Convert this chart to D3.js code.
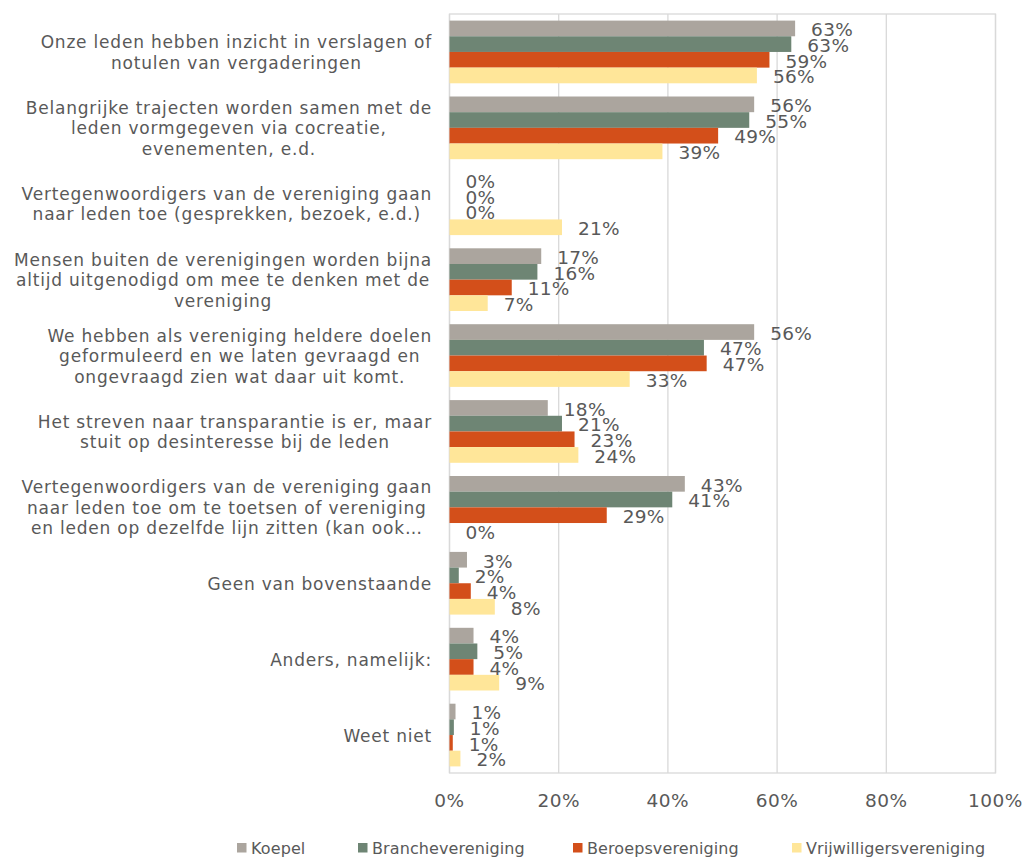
<!DOCTYPE html>
<html><head><meta charset="utf-8">
<script src="https://cdn.jsdelivr.net/npm/d3@7"></script>
<style>
body{margin:0;background:#fff;}
text{font-family:"DejaVu Sans",Verdana,sans-serif;fill:#595959;}
</style></head>
<body>
<svg id="c" width="1025" height="857"></svg>
<script>
const categories = [
  ["Onze leden hebben inzicht in verslagen of","notulen van vergaderingen"],
  ["Belangrijke trajecten worden samen met de","leden vormgegeven via cocreatie,","evenementen, e.d."],
  ["Vertegenwoordigers van de vereniging gaan","naar leden toe (gesprekken, bezoek, e.d.)"],
  ["Mensen buiten de verenigingen worden bijna","altijd uitgenodigd om mee te denken met de","vereniging"],
  ["We hebben als vereniging heldere doelen","geformuleerd en we laten gevraagd en","ongevraagd zien wat daar uit komt."],
  ["Het streven naar transparantie is er, maar","stuit op desinteresse bij de leden"],
  ["Vertegenwoordigers van de vereniging gaan","naar leden toe om te toetsen of vereniging","en leden op dezelfde lijn zitten (kan ook…"],
  ["Geen van bovenstaande"],
  ["Anders, namelijk:"],
  ["Weet niet"]
];
const seriesNames = ["Koepel","Branchevereniging","Beroepsvereniging","Vrijwilligersvereniging"];
const koepel      = [0.633,0.558,0.000,0.168,0.558,0.180,0.431,0.032,0.044,0.011];
const branche     = [0.626,0.549,0.000,0.161,0.466,0.206,0.408,0.017,0.051,0.008];
const beroeps     = [0.586,0.492,0.000,0.114,0.471,0.229,0.288,0.039,0.044,0.006];
const vrijwillig  = [0.563,0.390,0.206,0.070,0.330,0.236,0.000,0.083,0.091,0.020];
const tickValues  = [0,0.2,0.4,0.6,0.8,1.0];
const colors = ["#aba59e","#6e8574","#d34f1a","#ffe699"];

const seriesValues = [koepel, branche, beroeps, vrijwillig];
const svg = d3.select("#c");
const L = 449.5, R = 995.5, T = 14, B = 773;

const x = d3.scaleLinear().domain([0,1]).range([L,R]);
const y0 = d3.scaleBand().domain(d3.range(categories.length)).range([T,B]).paddingInner(0.174).paddingOuter(0.087);
const y1 = d3.scaleBand().domain(d3.range(seriesNames.length)).range([0,y0.bandwidth()]);

// gridlines
svg.append("g").selectAll("line").data(tickValues).join("line")
  .attr("x1",d=>x(d)).attr("x2",d=>x(d)).attr("y1",T).attr("y2",B)
  .attr("stroke","#d9d9d9").attr("stroke-width",1.3);
svg.append("rect").attr("x",L).attr("y",T).attr("width",R-L).attr("height",B-T)
  .attr("fill","none").attr("stroke","#d9d9d9").attr("stroke-width",1.3);

// bars
const groups = svg.append("g").selectAll("g").data(categories).join("g")
  .attr("transform",(d,i)=>`translate(0,${y0(i)})`);
groups.each(function(cat,i){
  const g = d3.select(this);
  const rows = seriesValues.map((vals,s)=>({s, v: vals[i]}));
  g.selectAll("rect").data(rows).join("rect")
    .attr("x",x(0)).attr("y",d=>y1(d.s)).attr("height",y1.bandwidth())
    .attr("width",d=>x(d.v)-x(0)).attr("fill",d=>colors[d.s]);
  g.selectAll("text").data(rows).join("text")
    .attr("x",d=>x(d.v)+16).attr("y",d=>y1(d.s)+y1.bandwidth()/2)
    .attr("dy","0.42em").attr("font-size",18.5).attr("letter-spacing",0.3)
    .text(d=>d3.format(".0%")(d.v));
});

// category labels
const lineH = 20.5;
categories.forEach((lines,i)=>{
  const cy = y0(i)+y0.bandwidth()/2;
  const g = svg.append("g");
  const ts = lines.map((ln,k)=>g.append("text").attr("font-size",17).attr("letter-spacing",0.8)
     .attr("text-anchor","middle").attr("dy","0.38em")
     .attr("y", cy + (k-(lines.length-1)/2)*lineH).text(ln));
  const w = d3.max(ts, t=>t.node().getComputedTextLength());
  ts.forEach(t=>t.attr("x", 432 - w/2));
});

// x axis tick labels
svg.append("g").selectAll("text").data(tickValues).join("text")
  .attr("x",d=>x(d)).attr("y",800).attr("dy","0.36em").attr("text-anchor","middle")
  .attr("font-size",18.5).attr("letter-spacing",0.5)
  .text(d=>d3.format(".0%")(d));

// legend (slot positions as in the reference layout)
const legendX = [237,358,573,792];
const ly = 848;
const lg = svg.append("g").selectAll("g").data(seriesNames).join("g")
  .attr("transform",(d,i)=>`translate(${legendX[i]},${ly})`);
lg.append("rect").attr("x",0).attr("y",-5).attr("width",9.5).attr("height",9.5).attr("fill",(d,i)=>colors[i]);
lg.append("text").attr("x",14).attr("dy","0.36em").attr("font-size",16).attr("letter-spacing",0.1).text(d=>d);
</script>
</body></html>
